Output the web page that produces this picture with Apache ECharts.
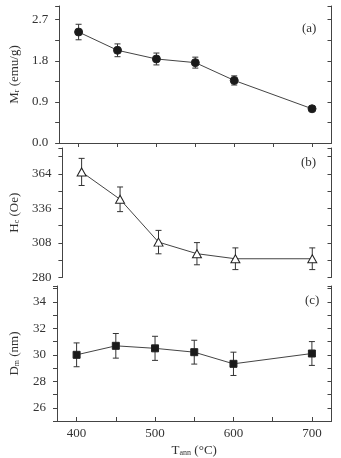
<!DOCTYPE html>
<html>
<head>
<meta charset="utf-8">
<script src="https://cdn.jsdelivr.net/npm/echarts@6/dist/echarts.min.js"></script>
<style>
  html, body { margin: 0; padding: 0; background: #fff; }
  #chart { width: 341px; height: 458px; }
</style>
</head>
<body>
<div id="chart"></div>
<script>
// annealing temperature axis (°C), one slot every 25 so the frame can start at 375
var tempSlots = ['375', '400', '425', '450', '475', '500', '525', '550', '575',
                 '600', '625', '650', '675', '700', '725'];
var temps = ['400', '450', '500', '550', '600', '700'];

// (a) Mr (emu/g)
var mrValues = [2.43, 2.03, 1.84, 1.76, 1.37, 0.75];
var mrErrors = [0.17, 0.14, 0.13, 0.12, 0.10, 0.03];
// (b) Hc (Oe)
var hcValues = [365.6, 343.4, 308.7, 299.3, 295.2, 295.2];
var hcErrors = [11, 10, 9.5, 9, 8.8, 8.8];
// (c) Dm (nm)
var dmValues = [30.0, 30.68, 30.49, 30.2, 29.32, 30.1];
var dmErrors = [0.9, 0.93, 0.91, 0.9, 0.88, 0.9];

// tick labels
var mrTicks = [0.0, 0.9, 1.8, 2.7];
var hcTicks = [280, 308, 336, 364];
var dmTicks = [26, 28, 30, 32, 34];
var tempLabels = ['400', '500', '600', '700'];

var FONT = '"Liberation Serif", "Times New Roman", serif';
var AX = '#444';
var TXT = '#333';

function pts(vals) {
  return temps.map(function (t, i) { return [t, vals[i]]; });
}
function bars(vals, errs) {
  return temps.map(function (t, i) { return [t, vals[i] - errs[i], vals[i] + errs[i]]; });
}

// error bar with caps
function errRender(params, api) {
  var lo = api.coord([api.value(0), api.value(1)]);
  var hi = api.coord([api.value(0), api.value(2)]);
  var w = 3;
  var st = { stroke: '#333', lineWidth: 1 };
  return {
    type: 'group',
    children: [
      { type: 'line', shape: { x1: lo[0], y1: lo[1], x2: hi[0], y2: hi[1] }, style: st },
      { type: 'line', shape: { x1: lo[0] - w, y1: lo[1], x2: lo[0] + w, y2: lo[1] }, style: st },
      { type: 'line', shape: { x1: hi[0] - w, y1: hi[1], x2: hi[0] + w, y2: hi[1] }, style: st }
    ]
  };
}

var nameRich = {
  m: { fontFamily: FONT, fontSize: 13, color: TXT, lineHeight: 15, verticalAlign: 'bottom' },
  s: { fontFamily: FONT, fontSize: 8, color: TXT, lineHeight: 9, verticalAlign: 'bottom' }
};

function yAx(grid, min, max, step, labels, digits, side, name) {
  var isLeft = side === 'left';
  return {
    type: 'value',
    gridIndex: grid,
    position: isLeft ? 'left' : 'right',
    min: min,
    max: max,
    interval: step,
    axisLine: { show: true, lineStyle: { color: AX, width: 1 } },
    axisTick: { show: true, inside: !isLeft, length: 4, lineStyle: { color: AX } },
    axisLabel: {
      show: isLeft,
      margin: 11,
      color: TXT,
      fontFamily: FONT,
      fontSize: 13,
      formatter: function (v) {
        var hit = labels.some(function (l) { return Math.abs(l - v) < 1e-6; });
        return hit ? v.toFixed(digits) : '';
      }
    },
    splitLine: { show: false },
    name: isLeft ? name : '',
    nameLocation: 'middle',
    nameGap: 36,
    nameRotate: 90,
    nameTextStyle: { rich: nameRich }
  };
}

function xAx(grid, pos, showLine, showLabel) {
  return {
    type: 'category',
    gridIndex: grid,
    position: pos,
    data: tempSlots,
    boundaryGap: false,
    axisLine: { show: showLine, lineStyle: { color: AX, width: 1 } },
    axisTick: {
      show: showLine,
      inside: true,
      length: 4,
      lineStyle: { color: AX },
      interval: function (i, v) { return Number(v) % 50 === 0; }
    },
    axisLabel: {
      show: showLabel,
      margin: 6,
      color: TXT,
      fontFamily: FONT,
      fontSize: 13,
      interval: function (i, v) { return tempLabels.indexOf(v) >= 0; }
    },
    splitLine: { show: false },
    name: showLabel ? '{m|T}{s|ann}{m| (°C)}' : '',
    nameLocation: 'middle',
    nameGap: 21,
    nameTextStyle: { rich: nameRich }
  };
}

function lineSeries(grid, vals, symbol, size, fill) {
  return {
    type: 'line',
    xAxisIndex: grid,
    yAxisIndex: grid * 2,
    data: pts(vals),
    symbol: symbol,
    symbolSize: size,
    showAllSymbol: true,
    lineStyle: { color: '#444', width: 1 },
    itemStyle: { color: fill, borderColor: '#222', borderWidth: 1 },
    z: 3
  };
}

function errSeries(grid, vals, errs) {
  return {
    type: 'custom',
    xAxisIndex: grid,
    yAxisIndex: grid * 2,
    data: bars(vals, errs),
    renderItem: errRender,
    z: 2
  };
}

var chart = echarts.init(document.getElementById('chart'));
chart.setOption({
  animation: false,
  backgroundColor: '#fff',
  grid: [
    { left: 48, right: 9.5, top: 6, height: 137 },
    { left: 48, right: 9.5, top: 148, height: 129.5 },
    { left: 48, right: 9.5, top: 286, height: 139 }
  ],
  xAxis: [
    xAx(0, 'top', true, false),
    xAx(1, 'bottom', false, false),
    xAx(2, 'bottom', true, true)
  ],
  yAxis: [
    yAx(0, 0, 3.0, 0.45, mrTicks, 1, 'left', '{m|M}{s|r}{m| (emu/g)}'),
    yAx(0, 0, 3.0, 0.45, mrTicks, 1, 'right', ''),
    yAx(1, 280, 385, 14, hcTicks, 0, 'left', '{m|H}{s|c}{m| (Oe)}'),
    yAx(1, 280, 385, 14, hcTicks, 0, 'right', ''),
    yAx(2, 25, 35.2, 1, dmTicks, 0, 'left', '{m|D}{s|m}{m| (nm)}'),
    yAx(2, 25, 35.2, 1, dmTicks, 0, 'right', '')
  ],
  graphic: [
    { type: 'text', left: 302, top: 22, style: { text: '(a)', font: '13px ' + FONT, fill: TXT } },
    { type: 'text', left: 301, top: 156, style: { text: '(b)', font: '13px ' + FONT, fill: TXT } },
    { type: 'text', left: 305, top: 294, style: { text: '(c)', font: '13px ' + FONT, fill: TXT } }
  ],
  series: [
    errSeries(0, mrValues, mrErrors),
    lineSeries(0, mrValues, 'circle', 8, '#1a1a1a'),
    errSeries(1, hcValues, hcErrors),
    lineSeries(1, hcValues, 'triangle', [9, 8], '#fff'),
    errSeries(2, dmValues, dmErrors),
    lineSeries(2, dmValues, 'rect', 7, '#1a1a1a')
  ]
});
</script>
</body>
</html>
